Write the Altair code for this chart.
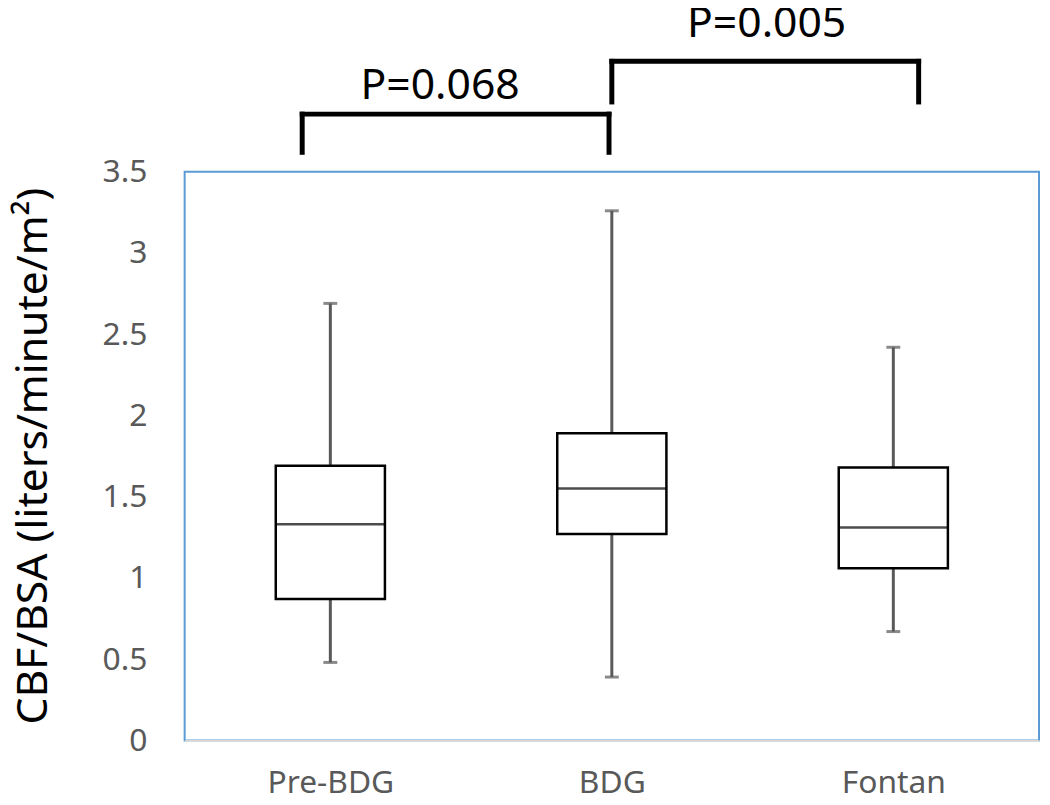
import altair as alt
import pandas as pd

categories = ["Pre-BDG", "BDG", "Fontan"]
positions = [0.5, 1.5, 2.5]
whisker_low = [0.48, 0.39, 0.67]
q1 = [0.87, 1.27, 1.06]
median = [1.33, 1.55, 1.31]
q3 = [1.69, 1.89, 1.68]
whisker_high = [2.69, 3.26, 2.42]

# significance brackets
br_left = [0.40, 1.50]
br_right = [1.49, 2.59]
br_leg_bottom = [3.62, 3.93]
br_top = [3.855, 4.18]
p_labels = ["P=0.068", "P=0.005"]
p_x = [0.89, 2.05]
p_y = [3.95, 4.33]

box = pd.DataFrame({
    "cat": categories, "pos": positions, "lo": whisker_low, "q1": q1,
    "med": median, "q3": q3, "hi": whisker_high,
})

segs = []
for l, r, b, t in zip(br_left, br_right, br_leg_bottom, br_top):
    segs.append({"x": l, "x2": l, "y": b, "y2": t})
    segs.append({"x": l, "x2": r, "y": t, "y2": t})
    segs.append({"x": r, "x2": r, "y": b, "y2": t})
seg_df = pd.DataFrame(segs)
txt_df = pd.DataFrame({"label": p_labels, "x": p_x, "y": p_y})

FONT = "Noto Sans"
GRAY = "#595959"

label_expr = "datum.value < 1 ? 'Pre-BDG' : datum.value < 2 ? 'BDG' : 'Fontan'"
xscale = alt.Scale(domain=[0, 3], nice=False, zero=False)
yscale = alt.Scale(domain=[0, 3.5], nice=False)

xenc = alt.X("pos:Q", scale=xscale, axis=alt.Axis(
    values=positions, labelExpr=label_expr, title=None, grid=False, ticks=False,
    domainColor="#D9D9D9", domainWidth=2, labelFontSize=32, labelColor=GRAY,
    labelFont=FONT, labelPadding=28, labelBaseline="top"))
yaxis = alt.Axis(
    values=[0, 0.5, 1, 1.5, 2, 2.5, 3, 3.5], format="~g", grid=False, ticks=False,
    domain=False, labelFontSize=32, labelColor=GRAY, labelFont=FONT, labelPadding=38,
    title="CBF/BSA (liters/minute/m²)", titleFont=FONT, titleFontSize=43,
    titleFontWeight="normal", titleColor="black", titleX=-152, titleY=286,
    titleBaseline="middle", titleAlign="center", titleAngle=270)

base = alt.Chart(box)

whisk_lo = base.mark_rule(color=GRAY, strokeWidth=3).encode(
    x=xenc, y=alt.Y("lo:Q", scale=yscale, axis=yaxis), y2="q1:Q")
whisk_hi = base.mark_rule(color=GRAY, strokeWidth=3).encode(
    x="pos:Q", y="q3:Q", y2="hi:Q")
cap_lo = base.mark_tick(orient="horizontal", size=14, thickness=3, color=GRAY).encode(
    x="pos:Q", y="lo:Q")
cap_hi = base.mark_tick(orient="horizontal", size=14, thickness=3, color=GRAY).encode(
    x="pos:Q", y="hi:Q")
boxes = base.mark_bar(size=110, fill="white", stroke="black", strokeWidth=2.5).encode(
    x="pos:Q", y="q1:Q", y2="q3:Q")
med = base.mark_tick(orient="horizontal", size=110, thickness=2.5, color="black").encode(
    x="pos:Q", y="med:Q")

brackets = alt.Chart(seg_df).mark_rule(color="black", strokeWidth=5, strokeCap="square").encode(
    x="x:Q", x2="x2:Q", y="y:Q", y2="y2:Q")
ptext = alt.Chart(txt_df).mark_text(font=FONT, fontSize=43, color="black",
                                    baseline="alphabetic", align="center").encode(
    x="x:Q", y="y:Q", text="label:N")

chart = alt.layer(whisk_lo, whisk_hi, cap_lo, cap_hi, boxes, med, brackets, ptext).properties(
    width=861, height=573,
    autosize=alt.AutoSizeParams(type="none"),
    padding={"left": 178, "top": 162, "right": 3, "bottom": 60},
).configure(background="white").configure_view(stroke="#5B9BD5", strokeWidth=2)

chart.save("out.html", embed_options={"renderer": "svg", "actions": False})
